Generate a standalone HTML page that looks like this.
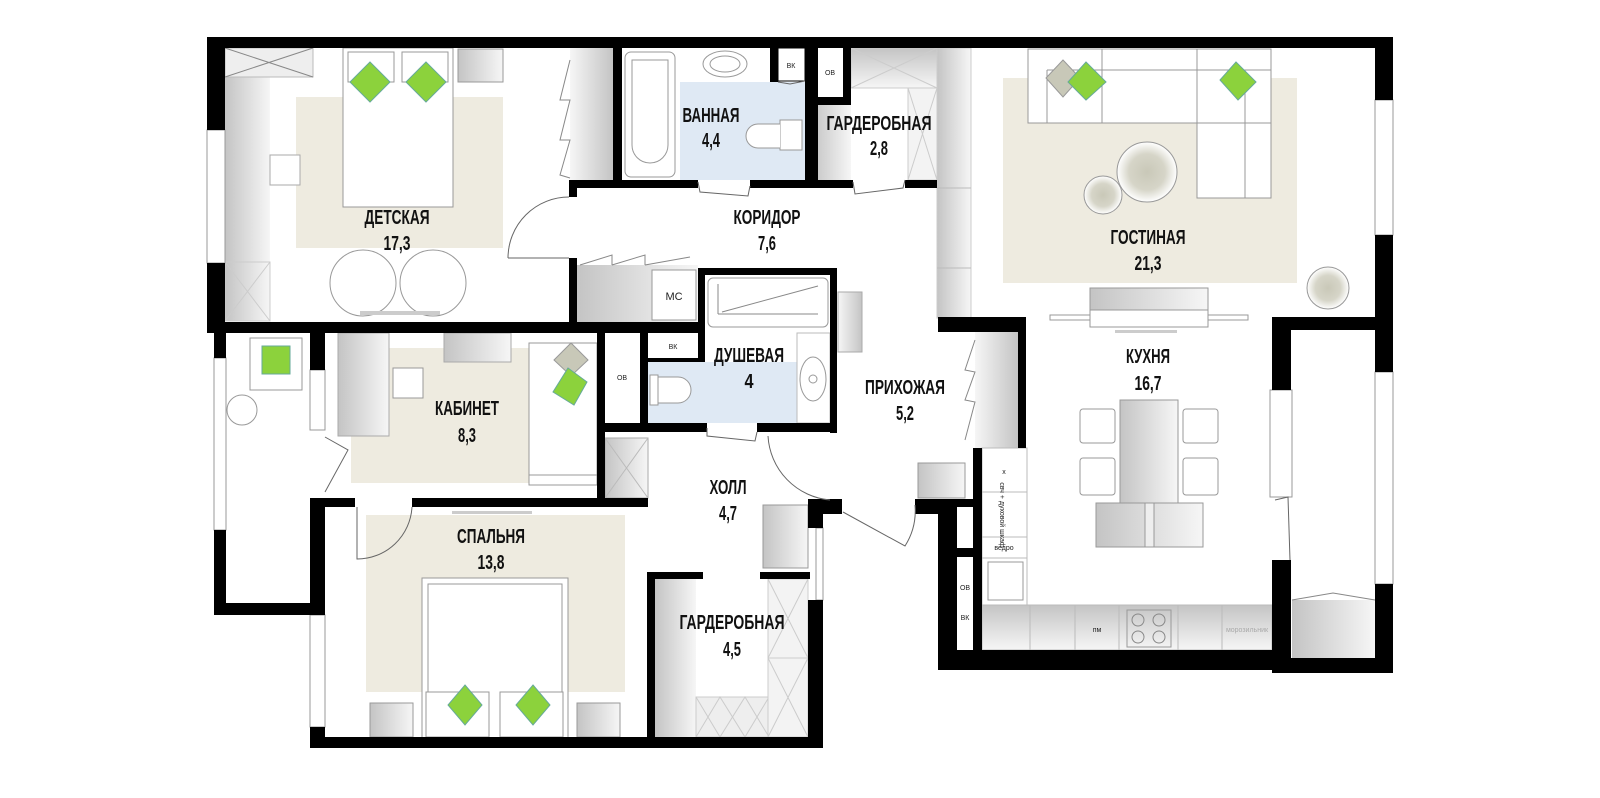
<!DOCTYPE html>
<html><head><meta charset="utf-8"><style>
html,body{margin:0;padding:0;background:#fff;width:1600px;height:798px;overflow:hidden}
svg{display:block}
.w{fill:#000}
.l{font-family:"Liberation Sans Narrow","Liberation Sans",sans-serif;font-weight:bold;font-size:20px;fill:#111}
.s{font-family:"Liberation Sans",sans-serif;font-size:7px;fill:#222}
.o{fill:#fff;stroke:#999;stroke-width:1}
.t{fill:none;stroke:#888;stroke-width:1}
</style></head><body>
<svg width="1600" height="798" viewBox="0 0 1600 798" xmlns="http://www.w3.org/2000/svg">
<defs>
<linearGradient id="g" x1="0" x2="1" y1="0" y2="0"><stop offset="0" stop-color="#c4c4c4"/><stop offset="1" stop-color="#f6f6f6"/></linearGradient>
<linearGradient id="gv" x1="0" x2="0" y1="0" y2="1"><stop offset="0" stop-color="#c4c4c4"/><stop offset="1" stop-color="#f6f6f6"/></linearGradient>
<linearGradient id="gr" x1="1" x2="0" y1="0" y2="0"><stop offset="0" stop-color="#c4c4c4"/><stop offset="1" stop-color="#f6f6f6"/></linearGradient>
<radialGradient id="c"><stop offset="0" stop-color="#c9c8b8"/><stop offset="0.6" stop-color="#d6d5c8"/><stop offset="1" stop-color="#fff"/></radialGradient>
</defs>

<!-- rugs -->
<rect x="296" y="97" width="207" height="151" fill="#eeebe0"/>
<rect x="1003" y="78" width="294" height="205" fill="#eeebe0"/>
<rect x="351" y="348" width="240" height="135" fill="#eeebe0"/>
<rect x="366" y="515" width="259" height="177" fill="#eeebe0"/>
<!-- blue wet zones -->
<rect x="680" y="82" width="125" height="98" fill="#dfe9f4"/>
<rect x="648" y="362" width="149" height="61" fill="#dfe9f4"/>

<!-- ДЕТСКАЯ furniture -->
<rect x="225" y="48" width="45" height="273" fill="url(#g)"/>
<rect x="225" y="48" width="88" height="29" fill="#eee" stroke="#bbb"/>
<path d="M225 48 L313 77 M313 48 L225 77" class="t" stroke="#ccc"/>
<rect x="225" y="262" width="45" height="59" fill="url(#g)" stroke="#ccc"/>
<path d="M225 262 L270 321 M270 262 L225 321" stroke="#ccc" fill="none"/>
<rect x="270" y="155" width="30" height="30" fill="#fff" stroke="#aaa"/>
<rect x="343" y="48" width="110" height="159" class="o"/>
<rect x="348" y="52" width="46" height="30" class="o"/><rect x="402" y="52" width="46" height="30" class="o"/>
<polygon points="370,62 390,82 370,102 350,82" fill="#8cd23c" stroke="#6a9"/>
<polygon points="426,62 446,82 426,102 406,82" fill="#8cd23c" stroke="#6a9"/>
<rect x="458" y="49" width="45" height="33" fill="url(#g)" stroke="#999"/>
<circle cx="363" cy="283" r="33" class="o"/><circle cx="433" cy="283" r="33" class="o"/>
<rect x="360" y="311" width="80" height="4" fill="#ccc"/>
<rect x="570" y="48" width="43" height="132" fill="url(#gr)"/>
<path d="M570 60 L560 100 L570 100 L560 140 L570 140 L560 175 L570 178" class="t"/>

<!-- ВАННАЯ -->
<rect x="625" y="52" width="50" height="125" rx="6" class="o"/>
<path d="M632 60 h36 v85 a18 18 0 0 1 -36 0 z" class="o"/>
<ellipse cx="725" cy="64" rx="22" ry="13" class="o"/><ellipse cx="725" cy="64" rx="15" ry="8" class="o"/>
<rect x="780" y="120" width="22" height="30" class="o"/>
<path d="M780 124 h-22 a12 12 0 0 0 0 24 h22" class="o"/>
<rect x="778" y="48" width="27" height="33" fill="#fff" stroke="#000"/>
<text x="791" y="68" class="s" text-anchor="middle">ВК</text>
<rect x="818" y="48" width="25" height="49" fill="#fff"/>
<text x="830" y="75" class="s" text-anchor="middle">ОВ</text>
<!-- ГАРДЕРОБНАЯ 2.8 -->
<rect x="812" y="105" width="39" height="75" fill="url(#g)"/>
<rect x="851" y="48" width="86" height="40" fill="url(#gv)" stroke="#ccc"/>
<path d="M851 48 L937 88 M937 48 L851 88" stroke="#ccc" fill="none"/>
<rect x="908" y="88" width="29" height="92" fill="#f3f3f3" stroke="#ccc"/>
<path d="M908 88 L937 180 M937 88 L908 180" stroke="#ccc" fill="none"/>
<!-- column -->
<rect x="937" y="48" width="34" height="270" fill="url(#g)" stroke="#ccc"/>
<line x1="937" y1="188" x2="971" y2="188" stroke="#bbb"/><line x1="937" y1="268" x2="971" y2="268" stroke="#bbb"/>

<!-- ГОСТИНАЯ -->
<rect x="1028" y="49" width="243" height="74" class="o"/>
<line x1="1047" y1="70" x2="1047" y2="123" stroke="#999"/>
<line x1="1047" y1="70" x2="1271" y2="70" stroke="#999"/>
<line x1="1102" y1="49" x2="1102" y2="123" stroke="#999"/>
<line x1="1197" y1="49" x2="1197" y2="123" stroke="#999"/>
<rect x="1197" y="123" width="74" height="75" class="o"/>
<line x1="1245" y1="70" x2="1245" y2="198" stroke="#999"/>
<polygon points="1063,60 1080,78 1063,97 1046,78" fill="#c8c8b8" stroke="#999"/>
<polygon points="1086,62 1106,82 1086,100 1068,82" fill="#8cd23c" stroke="#6a9"/>
<polygon points="1236,62 1256,82 1238,100 1220,80" fill="#8cd23c" stroke="#6a9"/>
<circle cx="1147" cy="172" r="30" fill="url(#c)" stroke="#999"/>
<circle cx="1103" cy="195" r="19" fill="url(#c)" stroke="#999"/>
<circle cx="1328" cy="288" r="21" fill="url(#c)" stroke="#999"/>
<rect x="1090" y="288" width="118" height="22" fill="url(#g)" stroke="#999"/>
<rect x="1090" y="310" width="118" height="17" class="o"/>
<rect x="1050" y="315" width="40" height="5" class="o"/><rect x="1208" y="315" width="40" height="5" class="o"/>
<rect x="1115" y="330" width="62" height="3" fill="#ccc"/>

<!-- КОРИДОР / МС -->
<rect x="577" y="265" width="121" height="57" fill="url(#g)"/>
<rect x="652" y="270" width="44" height="50" class="o"/>
<text x="674" y="300" class="s" text-anchor="middle" font-size="11" style="font-size:11px">МС</text>
<path d="M580 265 L612 255 L612 265 M612 265 L645 255 L645 265 M645 265 L690 257" class="t"/>

<!-- ДУШЕВАЯ -->
<rect x="708" y="278" width="120" height="49" rx="5" class="o"/>
<path d="M718 284 v30 M718 314 h100 M722 312 L818 286" class="t"/>
<rect x="648" y="333" width="50" height="25" fill="#fff"/>
<text x="673" y="349" class="s" text-anchor="middle">ВК</text>
<rect x="605" y="332" width="35" height="90" fill="#fff"/>
<text x="622" y="380" class="s" text-anchor="middle">ОВ</text>
<rect x="797" y="333" width="33" height="90" fill="#fff" stroke="#bbb"/>
<ellipse cx="813" cy="379" rx="13" ry="22" class="o"/><circle cx="813" cy="379" r="4" class="o"/>
<rect x="650" y="375" width="8" height="30" class="o"/>
<path d="M658 377 h20 a13 13 0 0 1 0 26 h-20 z" class="o"/>
<rect x="838" y="292" width="24" height="60" fill="url(#gr)" stroke="#aaa"/>
<rect x="605" y="438" width="43" height="60" fill="url(#g)" stroke="#aaa"/>
<path d="M605 438 L648 498 M648 438 L605 498" stroke="#bbb" fill="none"/>

<!-- КАБИНЕТ -->
<rect x="338" y="333" width="51" height="103" fill="url(#g)" stroke="#aaa"/>
<rect x="444" y="333" width="67" height="29" fill="url(#g)" stroke="#aaa"/>
<rect x="393" y="368" width="30" height="30" class="o"/>
<rect x="529" y="343" width="68" height="142" class="o"/>
<rect x="529" y="475" width="68" height="10" class="o"/>
<polygon points="571,343 588,360 571,376 554,360" fill="#c8c8b8" stroke="#999"/>
<polygon points="568,368 587,382 574,405 553,392" fill="#8cd23c" stroke="#6a9"/>
<!-- balcony -->
<rect x="250" y="338" width="52" height="52" class="o"/>
<rect x="262" y="346" width="28" height="28" fill="#8cd23c" stroke="#6a9"/>
<circle cx="242" cy="410" r="15" class="o"/>

<!-- СПАЛЬНЯ -->
<rect x="422" y="578" width="146" height="162" class="o"/>
<rect x="428" y="584" width="134" height="156" class="o"/>
<rect x="426" y="692" width="63" height="45" class="o"/><rect x="500" y="692" width="63" height="45" class="o"/>
<polygon points="465,685 482,705 465,725 448,705" fill="#8cd23c" stroke="#6a9"/>
<polygon points="533,685 550,705 533,725 516,705" fill="#8cd23c" stroke="#6a9"/>
<rect x="370" y="703" width="43" height="34" fill="url(#g)" stroke="#999"/>
<rect x="577" y="703" width="43" height="34" fill="url(#g)" stroke="#999"/>
<rect x="452" y="511" width="80" height="3" fill="#ccc"/>

<!-- ГАРДЕРОБНАЯ 4.5 + hall -->
<rect x="655" y="579" width="41" height="158" fill="url(#g)"/>
<rect x="696" y="697" width="73" height="40" fill="#eee" stroke="#ccc"/>
<path d="M696 697 L720 737 L745 697 L769 737 M696 737 L720 697 L745 737 L769 697" stroke="#ccc" fill="none"/>
<rect x="768" y="579" width="40" height="158" fill="#f3f3f3" stroke="#ccc"/>
<path d="M768 579 L808 658 L768 737 M808 579 L768 658 L808 737 M768 658 h40" stroke="#ccc" fill="none"/>
<rect x="763" y="505" width="45" height="63" fill="url(#g)" stroke="#999"/>
<rect x="918" y="463" width="47" height="35" fill="url(#g)" stroke="#999"/>
<rect x="975" y="332" width="43" height="116" fill="url(#gr)"/>
<path d="M975 340 L965 370 L975 372 L965 400 L975 402 L965 440" class="t"/>

<!-- КУХНЯ -->
<rect x="982" y="448" width="45" height="157" fill="#fff" stroke="#bbb"/>
<line x1="982" y1="492" x2="1027" y2="492" stroke="#bbb"/><line x1="982" y1="537" x2="1027" y2="537" stroke="#bbb"/><line x1="982" y1="558" x2="1027" y2="558" stroke="#bbb"/>
<text x="1004" y="474" class="s" text-anchor="middle">х</text>
<text x="1004" y="550" class="s" text-anchor="middle">ведро</text>
<text transform="translate(1000,515) rotate(90)" class="s" text-anchor="middle" font-size="6">свч + духовой шкаф</text>
<rect x="988" y="562" width="35" height="38" class="o"/>
<rect x="982" y="605" width="290" height="45" fill="url(#gv)" stroke="#bbb"/>
<path d="M1030 605 v45 M1075 605 v45 M1119 605 v45 M1178 605 v45 M1222 605 v45" stroke="#bbb"/>
<rect x="1127" y="610" width="44" height="37" fill="none" stroke="#999"/>
<circle cx="1138" cy="620" r="6" class="t"/><circle cx="1159" cy="620" r="6" class="t"/><circle cx="1138" cy="637" r="6" class="t"/><circle cx="1159" cy="637" r="6" class="t"/>
<text x="1097" y="632" class="s" text-anchor="middle">пм</text>
<text x="1247" y="632" class="s" text-anchor="middle" style="fill:#aaa">морозильник</text>
<rect x="1120" y="400" width="58" height="103" fill="url(#g)" stroke="#999"/>
<rect x="1096" y="503" width="107" height="44" fill="url(#g)" stroke="#999"/>
<rect x="1145" y="503" width="9" height="44" fill="#eee" stroke="#999"/>
<rect x="1080" y="409" width="35" height="34" rx="3" class="o"/><rect x="1080" y="458" width="35" height="37" rx="3" class="o"/>
<rect x="1183" y="409" width="35" height="34" rx="3" class="o"/><rect x="1183" y="458" width="35" height="37" rx="3" class="o"/>
<rect x="1270" y="390" width="22" height="107" class="o"/>
<rect x="1292" y="600" width="83" height="58" fill="url(#g)"/>
<path d="M1292 600 L1333 593 L1375 600" class="t"/>

<!-- WINDOWS -->
<rect x="207" y="130" width="18" height="133" fill="#fff" stroke="#999"/>
<rect x="214" y="358" width="12" height="172" fill="#fff" stroke="#999"/>
<rect x="310" y="370" width="15" height="60" fill="#fff" stroke="#999"/>
<rect x="310" y="615" width="15" height="112" fill="#fff" stroke="#999"/>
<rect x="1375" y="100" width="18" height="135" fill="#fff" stroke="#999"/>
<rect x="1375" y="372" width="18" height="212" fill="#fff" stroke="#999"/>
<rect x="816" y="528" width="7" height="72" fill="#fff" stroke="#999"/>

<!-- WALLS -->
<g class="w">
<rect x="207" y="37" width="1186" height="11"/>
<rect x="207" y="37" width="18" height="93"/><rect x="207" y="263" width="18" height="70"/>
<rect x="207" y="322" width="498" height="11"/>
<rect x="569" y="180" width="8" height="17"/><rect x="569" y="258" width="8" height="64"/>
<rect x="613" y="48" width="9" height="140"/>
<rect x="577" y="180" width="121" height="8"/><rect x="750" y="180" width="103" height="8"/><rect x="905" y="180" width="32" height="8"/>
<rect x="770" y="48" width="8" height="34"/><rect x="805" y="48" width="13" height="132"/>
<rect x="843" y="48" width="8" height="57"/><rect x="812" y="97" width="39" height="8"/>
<rect x="698" y="268" width="139" height="7"/><rect x="698" y="268" width="7" height="94"/>
<rect x="648" y="358" width="57" height="4"/><rect x="830" y="268" width="7" height="165"/>
<rect x="597" y="423" width="110" height="9"/><rect x="757" y="423" width="80" height="9"/>
<rect x="597" y="332" width="8" height="175"/><rect x="640" y="332" width="8" height="100"/>
<rect x="412" y="498" width="236" height="9"/><rect x="310" y="498" width="45" height="9"/>
<rect x="310" y="333" width="15" height="37"/><rect x="310" y="498" width="15" height="117"/><rect x="310" y="727" width="15" height="19"/>
<rect x="214" y="333" width="12" height="25"/><rect x="214" y="530" width="12" height="85"/><rect x="214" y="603" width="111" height="12"/>
<rect x="310" y="737" width="513" height="11"/>
<rect x="647" y="572" width="8" height="176"/><rect x="647" y="572" width="56" height="7"/><rect x="760" y="572" width="50" height="7"/>
<rect x="808" y="499" width="15" height="29"/><rect x="808" y="600" width="15" height="148"/><rect x="808" y="499" width="34" height="15"/>
<rect x="915" y="499" width="23" height="15"/>
<rect x="938" y="317" width="88" height="15"/><rect x="1018" y="317" width="8" height="131"/>
<rect x="938" y="499" width="19" height="171"/><rect x="957" y="499" width="25" height="8"/><rect x="957" y="548" width="25" height="9"/>
<rect x="973" y="448" width="9" height="202"/>
<rect x="938" y="650" width="352" height="20"/>
<rect x="1272" y="317" width="19" height="73"/><rect x="1272" y="560" width="19" height="113"/>
<rect x="1272" y="317" width="121" height="13"/>
<rect x="1272" y="658" width="121" height="15"/>
<rect x="1375" y="37" width="18" height="63"/><rect x="1375" y="235" width="18" height="137"/><rect x="1375" y="584" width="18" height="89"/>
</g>
<rect x="957" y="557" width="16" height="93" fill="#fff"/>
<text x="965" y="590" class="s" text-anchor="middle">ОВ</text>
<text x="965" y="620" class="s" text-anchor="middle">ВК</text>

<!-- DOORS -->
<path d="M508 258 H569 M508 258 A61 61 0 0 1 569 197" fill="none" stroke="#666"/>
<path d="M698 182 L700 192 L748 196 L750 186" fill="none" stroke="#666"/>
<path d="M853 182 L855 194 L903 188 L905 180" fill="none" stroke="#666"/>
<path d="M707 428 L707 436 L755 441 L757 432" fill="none" stroke="#666"/>
<path d="M768 436 A68 68 0 0 0 830 500" fill="none" stroke="#666"/>
<path d="M843 512 L905 546 A66 66 0 0 0 915 505" fill="none" stroke="#666"/>
<path d="M357 507 V559 A55 55 0 0 0 412 507" fill="none" stroke="#666"/>
<path d="M325 437 L348 450 L325 492" fill="none" stroke="#666"/>
<path d="M778 82 L790 84 L805 81" fill="none" stroke="#666"/>
<path d="M1275 500 L1288 497 L1290 560" fill="none" stroke="#666"/>

<!-- LABELS -->
<g class="l" text-anchor="middle">
<text x="397" y="224" textLength="65" lengthAdjust="spacingAndGlyphs">ДЕТСКАЯ</text>
<text x="397" y="250" textLength="27" lengthAdjust="spacingAndGlyphs">17,3</text>
<text x="711" y="122" textLength="57" lengthAdjust="spacingAndGlyphs">ВАННАЯ</text>
<text x="711" y="147" textLength="18" lengthAdjust="spacingAndGlyphs">4,4</text>
<text x="879" y="130" textLength="105" lengthAdjust="spacingAndGlyphs">ГАРДЕРОБНАЯ</text>
<text x="879" y="155" textLength="18" lengthAdjust="spacingAndGlyphs">2,8</text>
<text x="767" y="224" textLength="67" lengthAdjust="spacingAndGlyphs">КОРИДОР</text>
<text x="767" y="250" textLength="18" lengthAdjust="spacingAndGlyphs">7,6</text>
<text x="1148" y="244" textLength="75" lengthAdjust="spacingAndGlyphs">ГОСТИНАЯ</text>
<text x="1148" y="270" textLength="27" lengthAdjust="spacingAndGlyphs">21,3</text>
<text x="1148" y="363" textLength="44" lengthAdjust="spacingAndGlyphs">КУХНЯ</text>
<text x="1148" y="390" textLength="27" lengthAdjust="spacingAndGlyphs">16,7</text>
<text x="749" y="362" textLength="70" lengthAdjust="spacingAndGlyphs">ДУШЕВАЯ</text>
<text x="749" y="388" textLength="9" lengthAdjust="spacingAndGlyphs">4</text>
<text x="905" y="394" textLength="80" lengthAdjust="spacingAndGlyphs">ПРИХОЖАЯ</text>
<text x="905" y="420" textLength="18" lengthAdjust="spacingAndGlyphs">5,2</text>
<text x="467" y="415" textLength="64" lengthAdjust="spacingAndGlyphs">КАБИНЕТ</text>
<text x="467" y="442" textLength="18" lengthAdjust="spacingAndGlyphs">8,3</text>
<text x="728" y="494" textLength="37" lengthAdjust="spacingAndGlyphs">ХОЛЛ</text>
<text x="728" y="520" textLength="18" lengthAdjust="spacingAndGlyphs">4,7</text>
<text x="491" y="543" textLength="68" lengthAdjust="spacingAndGlyphs">СПАЛЬНЯ</text>
<text x="491" y="569" textLength="27" lengthAdjust="spacingAndGlyphs">13,8</text>
<text x="732" y="629" textLength="105" lengthAdjust="spacingAndGlyphs">ГАРДЕРОБНАЯ</text>
<text x="732" y="656" textLength="18" lengthAdjust="spacingAndGlyphs">4,5</text>
</g>
</svg>
</body></html>
